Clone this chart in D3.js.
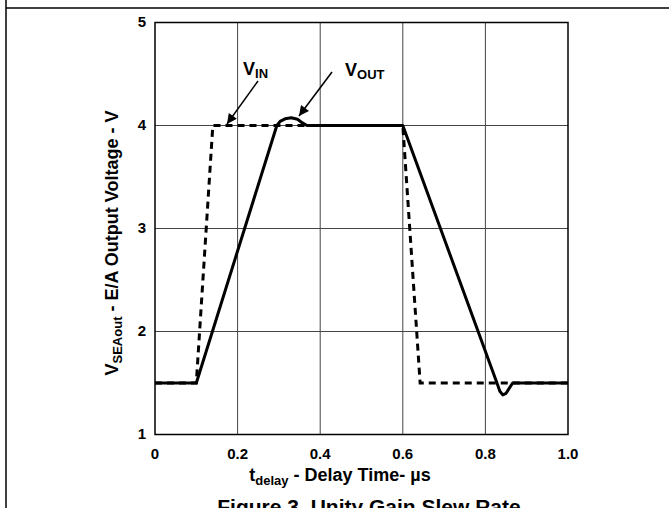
<!DOCTYPE html>
<html>
<head>
<meta charset="utf-8">
<script src="https://cdn.jsdelivr.net/npm/d3@7"></script>
<style>
    body { margin: 0; background: #fff; }
    svg { display: block; font-family: "Liberation Sans", Arial, sans-serif; font-weight: bold; }
</style>
</head>
<body>
<script>
// values (time in us, voltage in V)
let vinTime = [0, 0.10, 0.14, 0.60, 0.642, 1.0];
let vinVolt = [1.5, 1.5, 4.0, 4.0, 1.5, 1.5];

let voutTime = [0, 0.10, 0.295, 0.303, 0.315, 0.33, 0.345, 0.357, 0.368, 0.60,
    0.828, 0.835, 0.842, 0.85, 0.858, 0.866, 1.0];
let voutVolt = [1.5, 1.5, 4.0, 4.04, 4.065, 4.075, 4.06, 4.025, 4.0, 4.0,
    1.5, 1.42, 1.385, 1.40, 1.45, 1.5, 1.5];

let xTicks = [0, 0.2, 0.4, 0.6, 0.8, 1.0];
let xTickLabels = ["0", "0.2", "0.4", "0.6", "0.8", "1.0"];
let yTicks = [1, 2, 3, 4, 5];

let wSvg = 669;
let hSvg = 508;
let pLeft = 155, pRight = 568, pTop = 22.5, pBottom = 434.5;

let svg = d3.select("body").append("svg")
    .attr("width", wSvg)
    .attr("height", hSvg);

// page frame lines
svg.append("line").attr("x1", 6).attr("x2", 6).attr("y1", 0).attr("y2", hSvg)
    .attr("stroke", "#000").attr("stroke-width", 1.5);
svg.append("line").attr("x1", 6).attr("x2", wSvg).attr("y1", 8).attr("y2", 8)
    .attr("stroke", "#000").attr("stroke-width", 1.5);

let x = d3.scaleLinear().domain([0, 1]).range([pLeft, pRight]);
let y = d3.scaleLinear().domain([1, 5]).range([pBottom, pTop]);

// grid
svg.append("g").selectAll("line")
    .data(xTicks.slice(1, -1))
    .enter().append("line")
    .attr("x1", d => x(d)).attr("x2", d => x(d))
    .attr("y1", pTop).attr("y2", pBottom)
    .attr("stroke", "#444").attr("stroke-width", 1);
svg.append("g").selectAll("line")
    .data(yTicks.slice(1, -1))
    .enter().append("line")
    .attr("x1", pLeft).attr("x2", pRight)
    .attr("y1", d => y(d)).attr("y2", d => y(d))
    .attr("stroke", "#444").attr("stroke-width", 1);

svg.append("rect")
    .attr("x", pLeft).attr("y", pTop)
    .attr("width", pRight - pLeft).attr("height", pBottom - pTop)
    .attr("fill", "none").attr("stroke", "#000").attr("stroke-width", 1.5);

// tick labels
svg.append("g").selectAll("text")
    .data(xTicks)
    .enter().append("text")
    .attr("x", d => x(d)).attr("y", pBottom + 24)
    .attr("text-anchor", "middle")
    .attr("font-size", 15)
    .text((d, i) => xTickLabels[i]);
svg.append("g").selectAll("text")
    .data(yTicks)
    .enter().append("text")
    .attr("x", pLeft - 9).attr("y", d => y(d) + 4)
    .attr("text-anchor", "end")
    .attr("font-size", 15)
    .text(d => d);

// curves
let line = d3.line().x(d => x(d[0])).y(d => y(d[1]));
let vinData = vinTime.map((t, i) => [t, vinVolt[i]]);
let voutData = voutTime.map((t, i) => [t, voutVolt[i]]);

svg.append("path")
    .attr("d", line(vinData))
    .attr("fill", "none").attr("stroke", "#000")
    .attr("stroke-width", 3).attr("stroke-dasharray", "7,5");

svg.append("path")
    .attr("d", line(voutData))
    .attr("fill", "none").attr("stroke", "#000")
    .attr("stroke-width", 3).attr("stroke-linejoin", "round");

// arrows
let defs = svg.append("defs");
defs.append("marker")
    .attr("id", "arrow")
    .attr("viewBox", "0 0 10 10")
    .attr("refX", 10).attr("refY", 5)
    .attr("markerWidth", 13).attr("markerHeight", 10)
    .attr("markerUnits", "userSpaceOnUse")
    .attr("orient", "auto")
    .append("path").attr("d", "M0,0 L10,5 L0,10 z").attr("fill", "#000");

svg.append("line")
    .attr("x1", 258).attr("y1", 81).attr("x2", 227).attr("y2", 124)
    .attr("stroke", "#000").attr("stroke-width", 1.5).attr("marker-end", "url(#arrow)");
svg.append("line")
    .attr("x1", 332).attr("y1", 72).attr("x2", 299).attr("y2", 116)
    .attr("stroke", "#000").attr("stroke-width", 1.5).attr("marker-end", "url(#arrow)");

let vin = svg.append("text").attr("x", 243).attr("y", 75).attr("font-size", 18);
vin.append("tspan").text("V");
vin.append("tspan").attr("font-size", 13).attr("dy", 3).text("IN");

let vout = svg.append("text").attr("x", 345).attr("y", 76).attr("font-size", 18);
vout.append("tspan").text("V");
vout.append("tspan").attr("font-size", 13).attr("dy", 3).text("OUT");

// axis titles
let xt = svg.append("text")
    .attr("x", 340).attr("y", 481)
    .attr("text-anchor", "middle").attr("font-size", 18);
xt.append("tspan").text("t");
xt.append("tspan").attr("font-size", 13).attr("dy", 4).text("delay");
xt.append("tspan").attr("dy", -4).text(" - Delay Time- \u00b5s");

let yt = svg.append("text")
    .attr("transform", "translate(118,243) rotate(-90)")
    .attr("text-anchor", "middle").attr("font-size", 18);
yt.append("tspan").text("V");
yt.append("tspan").attr("font-size", 13).attr("dy", 4).text("SEAout");
yt.append("tspan").attr("dy", -4).text(" - E/A Output Voltage - V");

svg.append("text")
    .attr("x", 369).attr("y", 514)
    .attr("text-anchor", "middle").attr("font-size", 21)
    .text("Figure 3. Unity Gain Slew Rate");
</script>
</body>
</html>
